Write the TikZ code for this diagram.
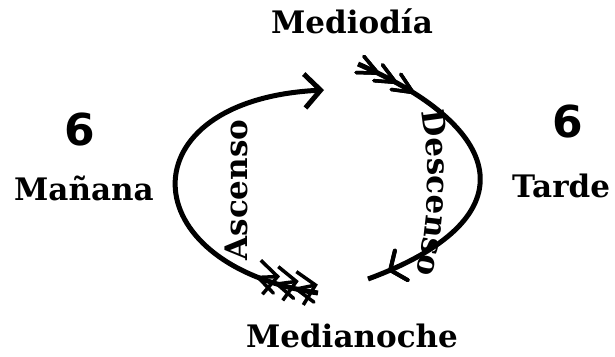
\documentclass[tikz,border=0pt]{standalone}
\usepackage{fontspec}
\setmainfont{DejaVu Serif}
\newfontfamily\seisfont{DejaVu Sans}
\usetikzlibrary{arrows.meta}
\usetikzlibrary{decorations.markings}
\usetikzlibrary{decorations.text}
\newcommand\letrahora{\bfseries\fontsize{31}{36}\selectfont}

\tikzset{
hora/.style={font=\letrahora,inner sep=0pt},
seis/.style={font=\seisfont\bfseries\fontsize{44}{50}\selectfont,inner sep=0pt},
arco/.style={line width=5pt},
plumas/.style={postaction={decorate},decoration={markings,
  mark=between positions 22pt and 62pt step 20pt with {\draw[line width=3.5pt,line cap=round] (-20pt,9pt)--(0,0)--(-20pt,-9pt);}}},
punta/.style={postaction={decorate},decoration={markings,
  mark=at position -24pt with {\draw[line width=4pt,line cap=round] (-12pt,16pt)--(0,0)--(-12pt,-16pt);}}},
}

\begin{document}
\begin{tikzpicture}[x=1pt,y=-1pt]
\useasboundingbox (0,0) rectangle (615,356);
\draw
(352,33) node[hora,anchor=base](mediodia){Mediodía}
(352,347) node[hora,anchor=base](medianoche){Medianoche}
(84,200) node[hora,anchor=base](manana){Mañana}
(561,197) node[hora,anchor=base](tarde){Tarde}
(80,145) node[seis,anchor=base](seisM){6}
(568,137) node[seis,anchor=base](seisT){6}
(236,190) node[hora,rotate=90](ascenso){Ascenso}
;
\coordinate (ascA) at (318,293);
\coordinate (ascB) at (324,90);
\coordinate (desA) at (358,64);
\coordinate (desB) at (368,279);
\draw[arco,plumas,-{Straight Barb[length=16pt,width=34pt]}]
(ascA) .. controls (130,265) and (125,100) .. (ascB);
\draw[arco,plumas,punta]
(desA) .. controls (510,130) and (528,220) .. (desB);
\path[decorate,decoration={text along path,text align=center,
  text={|\letrahora|Descenso}}]
(420,102) .. controls (431,160) and (431,220) .. (414,284);
\end{tikzpicture}
\end{document}
